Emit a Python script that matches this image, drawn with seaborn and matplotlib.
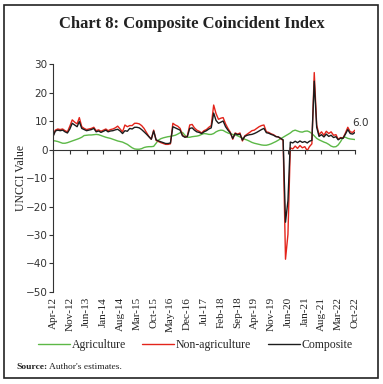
import pandas as pd
import matplotlib
matplotlib.use("Agg")
import matplotlib.pyplot as plt
import matplotlib.dates as mdates
from matplotlib.patches import Rectangle
import seaborn as sns

# monthly, Apr-12 .. Oct-22
months = pd.date_range("2012-04-01", "2022-10-01", freq="MS")

agriculture = [
    3.1, 3.0, 2.8, 2.5, 2.2, 2.2, 2.4, 2.7, 3.0,                  # 2012
    3.3, 3.6, 3.9, 4.3, 4.9, 5.0, 5.1, 5.1, 5.2, 5.3, 5.2, 4.9,   # 2013
    4.6, 4.3, 4.1, 3.9, 3.6, 3.3, 3.0, 2.8, 2.6, 2.2, 1.8, 1.2,   # 2014
    0.6, 0.2, 0.1, 0.1, 0.3, 0.7, 0.9, 1.0, 1.0, 1.1, 2.2, 3.3,   # 2015
    3.8, 4.1, 4.3, 4.5, 4.6, 4.8, 5.0, 5.4, 5.9, 6.0, 5.0, 4.3,   # 2016
    4.3, 4.5, 4.6, 4.7, 4.9, 5.3, 5.6, 5.5, 5.3, 5.3, 5.6, 6.2,   # 2017
    6.6, 6.8, 6.7, 6.2, 5.8, 5.5, 5.3, 5.1, 4.8, 4.4, 4.0, 3.6,   # 2018
    3.3, 2.9, 2.5, 2.2, 2.0, 1.8, 1.6, 1.5, 1.5, 1.7, 2.0, 2.4,   # 2019
    2.8, 3.3, 3.8, 4.3, 4.8, 5.3, 5.8, 6.5, 6.8, 6.5, 6.2, 6.1,   # 2020
    6.4, 6.5, 6.2, 5.6, 4.8, 3.9, 3.4, 3.0, 2.6, 2.3, 1.8, 1.2,   # 2021
    0.9, 1.0, 1.6, 2.8, 4.2, 4.3, 3.9, 3.7, 3.6, 3.5,             # 2022
]

non_agriculture = [
    4.8, 6.8, 7.2, 7.0, 7.2, 6.6, 6.2, 8.2, 10.4,
    9.6, 9.0, 11.2, 8.0, 7.4, 7.0, 7.2, 7.4, 7.8, 6.6, 6.9, 6.4,
    6.8, 7.2, 6.6, 7.0, 7.2, 7.6, 8.2, 7.2, 6.2, 8.6, 8.0, 8.4,
    8.4, 9.2, 9.2, 9.0, 8.4, 7.4, 6.0, 4.6, 3.6, 6.8, 3.2, 2.8,
    2.4, 2.1, 1.8, 1.8, 2.0, 9.2, 8.6, 8.2, 7.4, 5.0, 4.4, 4.6,
    8.6, 8.8, 7.6, 6.8, 6.4, 5.8, 6.6, 7.0, 7.8, 8.4, 15.6, 12.6,
    10.6, 11.0, 11.2, 9.0, 7.4, 6.0, 3.6, 5.8, 5.4, 5.8, 3.0, 4.8,
    5.4, 6.0, 6.6, 6.8, 7.4, 8.0, 8.4, 8.6, 6.2, 6.0, 5.5, 5.2,
    4.6, 4.4, 3.8, 3.2, -38.5, -29.8, 0.6, 0.2, 1.2, 0.4, 1.4, 0.6,
    1.0, -0.4, 1.0, 2.0, 27.0, 8.6, 5.2, 6.2, 5.0, 6.4, 5.6, 6.2,
    5.0, 5.2, 3.6, 4.2, 4.0, 5.8, 7.8, 6.2, 6.0, 6.8,
]

composite = [
    4.5, 6.5, 6.8, 6.6, 6.8, 6.2, 5.8, 7.2, 9.2,
    8.6, 8.0, 9.8, 7.4, 7.0, 6.6, 6.8, 7.0, 7.4, 6.2, 6.5, 6.0,
    6.4, 6.8, 6.2, 6.5, 6.6, 6.9, 7.1, 6.5, 5.6, 6.6, 6.4, 7.4,
    7.2, 7.8, 7.8, 7.6, 7.0, 6.2, 5.4, 4.5, 3.6, 6.5, 3.4, 3.0,
    2.7, 2.4, 2.1, 2.1, 2.3, 8.0, 7.6, 7.2, 6.8, 4.8, 4.3, 4.5,
    7.4, 7.6, 6.8, 6.2, 6.0, 5.6, 6.2, 6.6, 7.2, 7.6, 12.8, 10.2,
    9.2, 9.6, 10.0, 8.0, 6.8, 5.8, 3.9, 5.6, 5.2, 5.4, 3.3, 4.6,
    5.0, 5.2, 5.3, 5.6, 6.0, 6.5, 7.0, 7.4, 5.9, 5.7, 5.3, 5.0,
    4.5, 4.4, 3.9, 3.4, -25.5, -18.0, 2.6, 2.3, 2.9, 2.4, 3.0, 2.5,
    2.8, 2.3, 2.9, 3.2, 24.0, 7.8, 4.6, 5.2, 4.4, 5.4, 4.6, 5.0,
    4.2, 4.5, 3.4, 4.0, 3.9, 5.4, 7.0, 5.6, 5.4, 6.0,
]

series_names = ["Agriculture", "Non-agriculture", "Composite"]
series_colors = ["#5cb847", "#e3241b", "#1c1c1c"]
y_ticks = list(range(-50, 31, 10))
tick_months = months[::7]
tick_labels = [m.strftime("%b-%y") for m in tick_months]

df = pd.DataFrame({
    "month": months,
    "Agriculture": agriculture,
    "Non-agriculture": non_agriculture,
    "Composite": composite,
}).melt(id_vars="month", var_name="series", value_name="value")

sns.set_style("white")
plt.rcParams["font.family"] = ["Liberation Serif", "DejaVu Serif"]

fig = plt.figure(figsize=(3.83, 3.84), dpi=100)
ax = fig.add_axes([0.1384, 0.2396, 0.7886, 0.5937])

sns.lineplot(data=df, x="month", y="value", hue="series",
             hue_order=series_names, palette=series_colors,
             linewidth=1.0, ax=ax)

ax.set_xlim(months[0], months[-1])
ax.set_ylim(-50, 30)
ax.set_yticks(y_ticks)
ax.set_xlabel("")
ax.set_ylabel("UNCCI Value", fontsize=8.5, color="#222222")
ax.yaxis.set_label_coords(-0.085, 0.5)

for side in ["top", "right"]:
    ax.spines[side].set_visible(False)
ax.spines["left"].set_color("#333333")
ax.spines["left"].set_linewidth(0.8)
ax.spines["bottom"].set_position(("data", 0))
ax.spines["bottom"].set_color("#333333")
ax.spines["bottom"].set_linewidth(0.8)

ax.set_xticks(mdates.date2num(tick_months))
ax.tick_params(axis="x", bottom=True, labelbottom=False, direction="out",
               length=3, width=0.8, color="#333333")
ax.tick_params(axis="y", left=True, direction="out", length=3, width=0.8,
               color="#333333", pad=1, labelsize=7.5, labelcolor="#333333")
for lab in ax.get_yticklabels():
    lab.set_fontfamily("DejaVu Sans")

# tick labels at the foot of the panel
sec = ax.secondary_xaxis("bottom")
sec.set_xticks(mdates.date2num(tick_months), tick_labels, rotation=90)
sec.tick_params(length=0, pad=3.5, labelsize=8, labelcolor="#222222")
sec.spines["bottom"].set_visible(False)

ax.annotate(f"{composite[-1]:.1f}", xy=(months[-1], composite[-1]),
            xytext=(4, 7), textcoords="offset points", ha="center",
            va="center", fontsize=7.5, color="#333333", family="DejaVu Sans")

handles, labels = ax.get_legend_handles_labels()
ax.get_legend().remove()
fig.legend(handles, labels, loc="center", bbox_to_anchor=(0.51, 0.102),
           ncol=3, frameon=False, fontsize=8.5, handlelength=2.7,
           handletextpad=0.15, columnspacing=1.4)

fig.suptitle("Chart 8: Composite Coincident Index", x=0.5, y=0.9375,
             va="center", fontsize=12, fontweight="bold", color="#222222")

fig.text(0.042, 0.044, "Source:", fontsize=6.8, fontweight="bold",
         va="center", color="#222222")
fig.text(0.127, 0.044, "Author's estimates.", fontsize=6.8, va="center",
         color="#222222")

fig.patches.append(Rectangle((4 / 383, 1 - 378 / 384), 374 / 383, 373 / 384,
                             transform=fig.transFigure, fill=False,
                             edgecolor="#222222", linewidth=1.2))

fig.savefig("out.png", dpi=100)
